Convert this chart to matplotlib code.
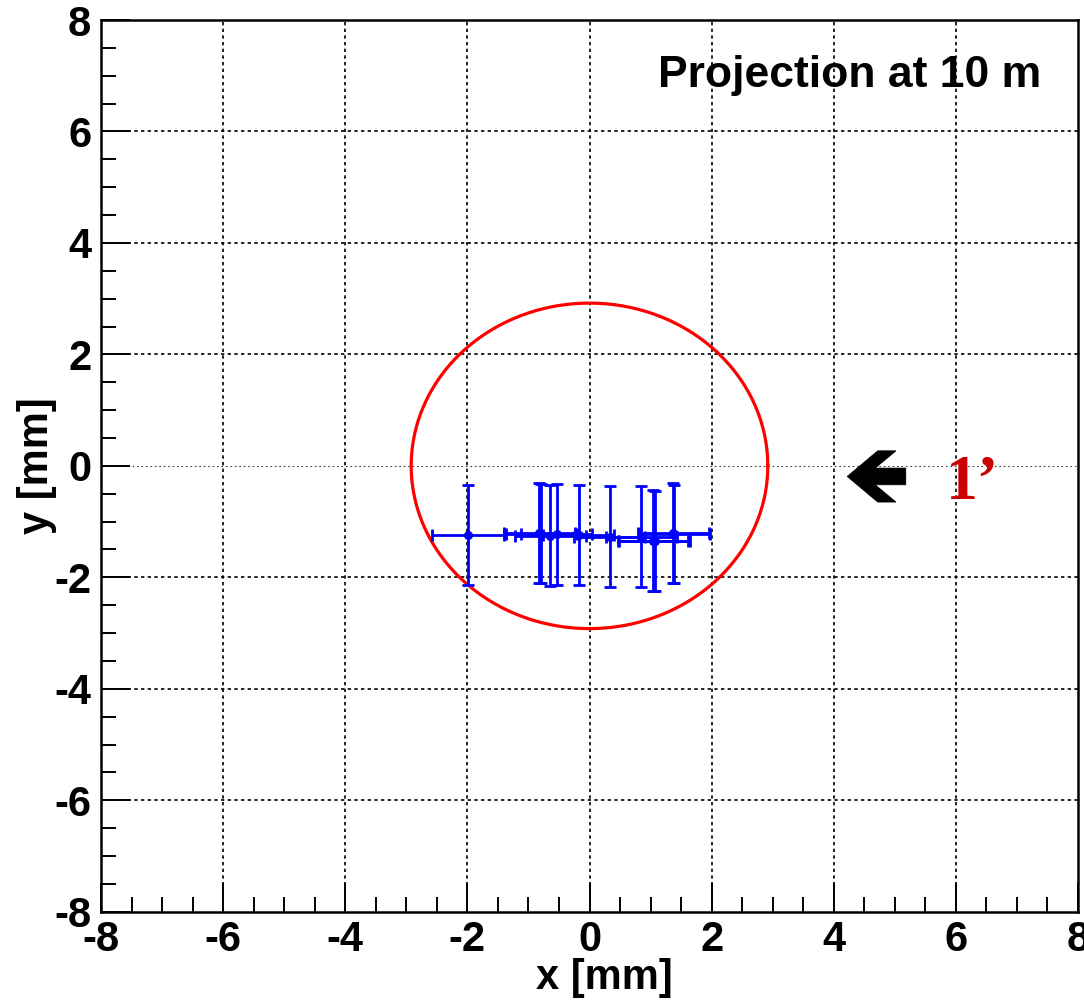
import numpy as np
import matplotlib
matplotlib.use("Agg")
import matplotlib.pyplot as plt
from matplotlib.patches import Polygon

# Beam-spot projections at 10 m (mm)
x_pos = [-1.99, -0.82, -0.79, -0.64, -0.54, -0.18, 0.33, 0.85, 1.04, 1.07, 1.37, 1.39]
y_pos = [-1.24, -1.21, -1.22, -1.25, -1.23, -1.24, -1.27, -1.27, -1.34, -1.35, -1.21, -1.22]
x_err = [0.59, 0.58, 0.58, 0.58, 0.58, 0.58, 0.58, 0.58, 0.58, 0.58, 0.58, 0.58]
y_err = [0.89, 0.90, 0.89, 0.90, 0.90, 0.90, 0.90, 0.90, 0.90, 0.90, 0.90, 0.88]

# Acceptance circle radius (mm)
circle_radius = 2.92

axis_ticks = [-8, -6, -4, -2, 0, 2, 4, 6, 8]
title_text = "Projection at 10 m"
marker_text = "1\u2019"

plt.rcParams["font.family"] = ["Liberation Sans", "DejaVu Sans"]
plt.rcParams["font.weight"] = "bold"
plt.rcParams["axes.unicode_minus"] = False

fig = plt.figure(figsize=(10.84, 10.0), dpi=100)
ax = fig.add_axes([101 / 1084, 1 - 911.7 / 1000, 977 / 1084, 891.7 / 1000])
ax.set_xlim(-8, 8)
ax.set_ylim(-8, 8)

# dotted grid at the major ticks
for v in axis_ticks[1:-1]:
    ax.axvline(v, color="black", lw=1.2, ls=(0, (2.0, 2.0)), zorder=1)
    if v != 0:
        ax.axhline(v, color="black", lw=1.2, ls=(0, (2.0, 2.0)), zorder=1)
ax.axhline(0, color="#444444", lw=0.8, ls=(0, (1.5, 2.5)), zorder=1)

# acceptance circle
t = np.linspace(0, 2 * np.pi, 400)
ax.plot(circle_radius * np.cos(t), circle_radius * np.sin(t), color="#ff0000", lw=2.3, zorder=3)

# measured points
ax.errorbar(x_pos, y_pos, xerr=x_err, yerr=y_err, fmt="o", color="#0000ff",
            ms=5.5, elinewidth=2.0, capsize=4.3, capthick=2.0, zorder=4)

# arrow pointing at the points
arrow = np.array([
    [4.22, -0.19], [4.72, 0.27], [5.02, 0.27], [4.68, -0.04],
    [5.18, -0.04], [5.18, -0.34], [4.68, -0.34], [5.02, -0.65],
    [4.72, -0.65],
])
ax.add_patch(Polygon(arrow, closed=True, facecolor="black", edgecolor="black", lw=0.5, zorder=5))
ax.text(5.84, -0.6, marker_text, color="#cc0000", fontsize=46, fontweight="bold",
        family=["Liberation Serif", "DejaVu Serif"], ha="left", va="baseline", zorder=5)

ax.text(7.4, 6.8, title_text, ha="right", va="baseline", fontsize=32, fontweight="bold")

ax.set_xticks(axis_ticks)
ax.set_yticks(axis_ticks)
ax.set_xticks(np.arange(-8, 8.01, 0.5), minor=True)
ax.set_yticks(np.arange(-8, 8.01, 0.5), minor=True)
ax.tick_params(which="both", direction="in", width=1.4, labelsize=30)
ax.tick_params(which="major", length=21)
ax.tick_params(which="minor", length=11)
ax.tick_params(axis="y", pad=7)
ax.tick_params(axis="x", pad=6)
for lab in ax.get_xticklabels() + ax.get_yticklabels():
    lab.set_fontweight("bold")

for sp in ax.spines.values():
    sp.set_linewidth(1.8)

ax.set_xlabel("x [mm]", fontsize=30, fontweight="bold")
ax.set_ylabel("y [mm]", fontsize=30, fontweight="bold")
ax.xaxis.set_label_coords(0.515, -0.052, transform=ax.transAxes)
ax.yaxis.set_label_coords(-0.066, 0.5, transform=ax.transAxes)
ax.xaxis.label.set_va("top")
ax.yaxis.label.set_va("center")

fig.savefig("out.png", dpi=100)
